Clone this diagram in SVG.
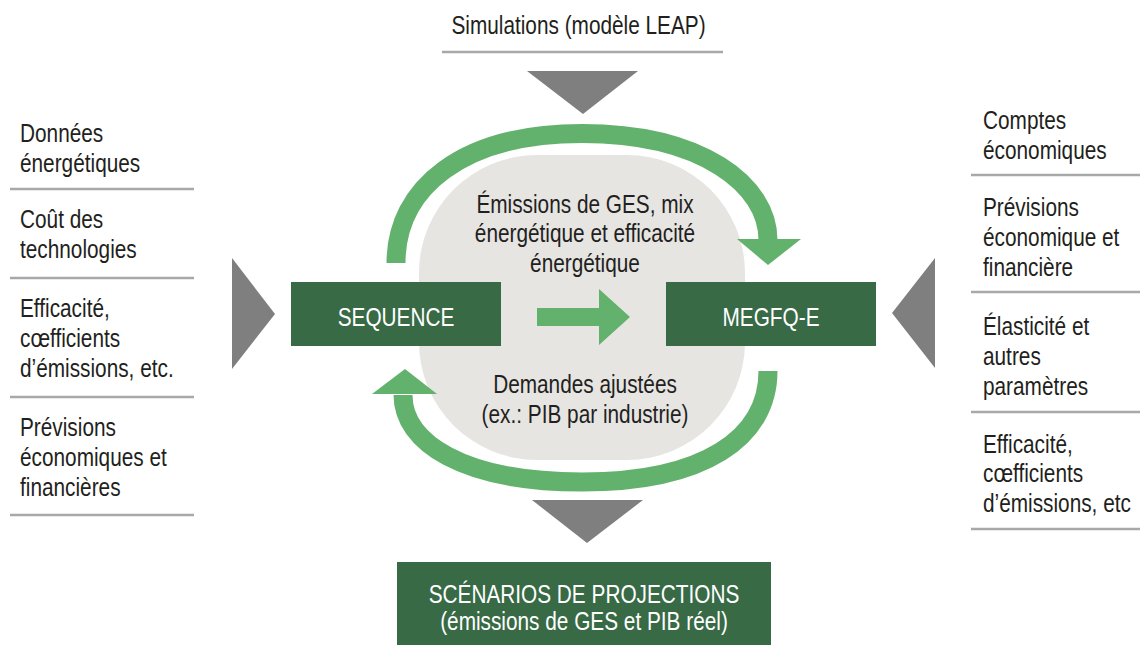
<svg xmlns="http://www.w3.org/2000/svg" width="1140" height="645" viewBox="0 0 1140 645">
<style>
.t{font-family:"Liberation Sans",Arial,sans-serif;font-size:26px;fill:#231f20}
.c{text-anchor:middle}
.w{fill:#ffffff}
.tri{fill:#7f7f7f}
.rule{stroke:#a7a9a9;stroke-width:2.5;fill:none}
.box{fill:#386a45}
.ring{fill:none;stroke:#62b26d;stroke-width:19}
.head{fill:#62b26d}
</style>
<rect width="1140" height="645" fill="#ffffff"/>

<g id="background">
  <rect x="419" y="155" width="326" height="305" rx="118" ry="118" fill="#e6e5e2"/>
</g>

<g id="top-input">
  <text class="t c" transform="translate(578.5,34) scale(0.8,1)">Simulations (modèle LEAP)</text>
  <line class="rule" x1="442" y1="52" x2="723" y2="52"/>
  <polygon class="tri" points="527,71 638,71 583,114"/>
</g>

<g id="left-inputs">
  <text class="t" transform="translate(20,142) scale(0.8,1)"><tspan x="0">Données</tspan><tspan x="0" dy="30">énergétiques</tspan></text>
  <line class="rule" x1="10" y1="189" x2="194" y2="189"/>
  <text class="t" transform="translate(20,228) scale(0.8,1)"><tspan x="0">Coût des</tspan><tspan x="0" dy="30">technologies</tspan></text>
  <line class="rule" x1="10" y1="278" x2="194" y2="278"/>
  <text class="t" transform="translate(20,317) scale(0.8,1)"><tspan x="0">Efficacité,</tspan><tspan x="0" dy="30">cœfficients</tspan><tspan x="0" dy="30">d’émissions, etc.</tspan></text>
  <line class="rule" x1="10" y1="397" x2="194" y2="397"/>
  <text class="t" transform="translate(20,436) scale(0.8,1)"><tspan x="0">Prévisions</tspan><tspan x="0" dy="30">économiques et</tspan><tspan x="0" dy="30">financières</tspan></text>
  <line class="rule" x1="10" y1="515" x2="194" y2="515"/>
  <polygon class="tri" points="232,258 275,314 232,369"/>
</g>

<g id="right-inputs">
  <text class="t" transform="translate(983,129) scale(0.8,1)"><tspan x="0">Comptes</tspan><tspan x="0" dy="30">économiques</tspan></text>
  <line class="rule" x1="971" y1="175" x2="1140" y2="175"/>
  <text class="t" transform="translate(983,216) scale(0.8,1)"><tspan x="0">Prévisions</tspan><tspan x="0" dy="30">économique et</tspan><tspan x="0" dy="30">financière</tspan></text>
  <line class="rule" x1="971" y1="292" x2="1140" y2="292"/>
  <text class="t" transform="translate(983,335) scale(0.8,1)"><tspan x="0">Élasticité et</tspan><tspan x="0" dy="30">autres</tspan><tspan x="0" dy="30">paramètres</tspan></text>
  <line class="rule" x1="971" y1="412" x2="1140" y2="412"/>
  <text class="t" transform="translate(983,453) scale(0.8,1)"><tspan x="0">Efficacité,</tspan><tspan x="0" dy="29.5">cœfficients</tspan><tspan x="0" dy="29.5">d’émissions, etc</tspan></text>
  <line class="rule" x1="971" y1="529" x2="1140" y2="529"/>
  <polygon class="tri" points="935,258 892,313 935,368"/>
</g>

<g id="connectors">
  <path class="ring" d="M396,263 C396,188 462,133.5 582,133.5 C702,133.5 768,185 768,240"/>
  <polygon class="head" points="737,239 801,239 768,265"/>
  <path class="ring" d="M768,371 C768,438 704,482 582,482 C462,482 403,442 403,395"/>
  <polygon class="head" points="372,394 437,394 405,369"/>
  <polygon class="head" points="537,308 599,308 599,289 630,317 599,345 599,326 537,326"/>
  <polygon class="tri" points="532,500 643,500 587,543"/>
</g>

<g id="label-top">
  <text class="t c" transform="translate(585,213) scale(0.8,1)"><tspan x="0">Émissions de GES, mix</tspan><tspan x="0" dy="29.5">énergétique et efficacité</tspan><tspan x="0" dy="29.5">énergétique</tspan></text>
</g>
<g id="label-bottom">
  <text class="t c" transform="translate(585,393) scale(0.8,1)"><tspan x="0">Demandes ajustées</tspan><tspan x="0" dy="30">(ex.: PIB par industrie)</tspan></text>
</g>

<g id="sequence">
  <rect class="box" x="291" y="282" width="210" height="64"/>
  <text class="t c w" transform="translate(396,326) scale(0.8,1)">SEQUENCE</text>
</g>

<g id="megfq-e">
  <rect class="box" x="666" y="282" width="210" height="64"/>
  <text class="t c w" transform="translate(771,326) scale(0.8,1)">MEGFQ-E</text>
</g>

<g id="scenarios">
  <rect class="box" x="397" y="562" width="374" height="83"/>
  <text class="t c w" transform="translate(584,603) scale(0.8,1)"><tspan x="0">SCÉNARIOS DE PROJECTIONS</tspan><tspan x="0" dy="27">(émissions de GES et PIB réel)</tspan></text>
</g>
</svg>
